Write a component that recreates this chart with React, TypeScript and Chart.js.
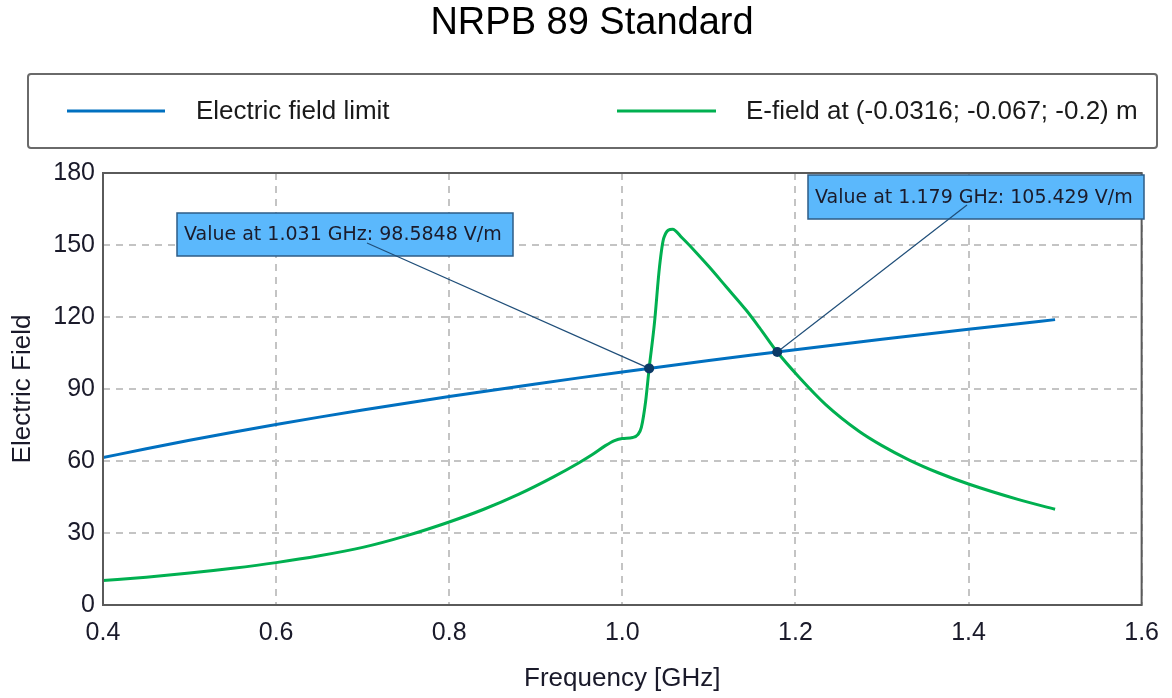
import React, { useEffect, useRef } from "react";
import { Chart, registerables } from "chart.js";

Chart.register(...registerables);

// ---- data ----
const limitFreqs = [0.4, 0.45, 0.5, 0.55, 0.6, 0.65, 0.7, 0.75, 0.8, 0.85, 0.9, 0.95, 1.0, 1.05, 1.1, 1.15, 1.2, 1.25, 1.3, 1.35, 1.4, 1.45, 1.5];
const limitValues = [61.41, 65.13, 68.65, 72.0, 75.21, 78.28, 81.23, 84.08, 86.84, 89.51, 92.11, 94.63, 97.09, 99.49, 101.83, 104.12, 106.36, 108.55, 110.7, 112.81, 114.88, 116.91, 118.91];

const fieldFreqs = [0.4, 0.45, 0.5, 0.55, 0.6, 0.65, 0.7, 0.75, 0.8, 0.84, 0.88, 0.92, 0.95, 0.965, 0.98, 0.991, 1.0, 1.012, 1.018, 1.022, 1.027, 1.031, 1.037, 1.043, 1.048, 1.058, 1.069, 1.085, 1.1, 1.12, 1.143, 1.158, 1.179, 1.204, 1.235, 1.273, 1.3, 1.331, 1.365, 1.4, 1.458, 1.5];
const fieldValues = [10.2, 11.6, 13.3, 15.3, 17.65, 20.5, 24.0, 28.8, 34.6, 39.9, 46.1, 53.3, 59.3, 62.6, 66.3, 68.5, 69.4, 69.8, 71.0, 74.0, 85.0, 98.6, 117.0, 141.0, 153.0, 156.6, 153.0, 147.0, 141.0, 132.6, 122.9, 115.8, 105.4, 95.0, 83.5, 72.5, 66.4, 60.5, 55.1, 50.4, 43.9, 39.9];

const xTickValues = [0.4, 0.6, 0.8, 1.0, 1.2, 1.4, 1.6];
const yTickValues = [0, 30, 60, 90, 120, 150, 180];

const markerFreqs = [1.031, 1.179];
const markerValues = [98.5848, 105.429];
const markerLabels = ["Value at 1.031 GHz: 98.5848 V/m", "Value at 1.179 GHz: 105.429 V/m"];

const seriesNames = ["Electric field limit", "E-field at (-0.0316; -0.067; -0.2) m"];
const seriesColors = ["#0070C0", "#00B050"];
const chartTitle = "NRPB 89 Standard";

const FONT = "'Liberation Sans', Arial, sans-serif";

// layout of annotation boxes (pixels): x, y, w, h, anchorX, anchorY
const labelBoxes = [
  { x: 177, y: 213, w: 336, h: 43, ax: 367, ay: 243 },
  { x: 808, y: 175, w: 336, h: 44, ax: 967, ay: 205 },
];

const decorPlugin = {
  id: "decor",
  afterDraw(chart: any) {
    const ctx = chart.ctx as CanvasRenderingContext2D;
    const { left, right, top, bottom } = chart.chartArea;
    ctx.save();

    // plot frame
    ctx.strokeStyle = "#5a5a5a";
    ctx.lineWidth = 2;
    ctx.strokeRect(left, top, right - left, bottom - top);

    // title
    ctx.fillStyle = "#000";
    ctx.font = `38px ${FONT}`;
    ctx.textAlign = "center";
    ctx.textBaseline = "middle";
    ctx.fillText(chartTitle, 592, 24);

    // legend box
    ctx.strokeStyle = "#6a6a6a";
    ctx.lineWidth = 2;
    ctx.beginPath();
    (ctx as any).roundRect(28, 74, 1129, 74, 3);
    ctx.stroke();
    const legendY = 111;
    const legendItems = [
      { x1: 67, x2: 165, tx: 196 },
      { x1: 617, x2: 716, tx: 746 },
    ];
    ctx.font = `26px ${FONT}`;
    ctx.textAlign = "left";
    legendItems.forEach((it, i) => {
      ctx.strokeStyle = seriesColors[i];
      ctx.lineWidth = 3;
      ctx.beginPath();
      ctx.moveTo(it.x1, legendY);
      ctx.lineTo(it.x2, legendY);
      ctx.stroke();
      ctx.fillStyle = "#1a1a1a";
      ctx.fillText(seriesNames[i], it.tx, legendY + 1);
    });

    // annotations
    const xs = chart.scales.x;
    const ys = chart.scales.y;
    markerFreqs.forEach((f, i) => {
      const px = xs.getPixelForValue(f);
      const py = ys.getPixelForValue(markerValues[i]);
      const b = labelBoxes[i];
      ctx.fillStyle = "#5BB8FC";
      ctx.fillRect(b.x, b.y, b.w, b.h);
      ctx.strokeStyle = "#2E5C86";
      ctx.lineWidth = 1.5;
      ctx.strokeRect(b.x, b.y, b.w, b.h);
      ctx.fillStyle = "#1b1b2a";
      ctx.font = `19px 'DejaVu Sans', sans-serif`;
      ctx.textAlign = "left";
      ctx.textBaseline = "middle";
      ctx.fillText(markerLabels[i], b.x + 7, b.y + b.h / 2 + 1);
      ctx.strokeStyle = "#1F4E79";
      ctx.lineWidth = 1.2;
      ctx.beginPath();
      ctx.moveTo(b.ax, b.ay);
      ctx.lineTo(px, py);
      ctx.stroke();
      ctx.fillStyle = "#0B3A66";
      ctx.beginPath();
      ctx.arc(px, py, 5, 0, Math.PI * 2);
      ctx.fill();
    });
    ctx.restore();
  },
};

export default function App() {
  const ref = useRef<HTMLCanvasElement | null>(null);
  useEffect(() => {
    document.body.style.margin = "0";
    const canvas = ref.current!;
    const chart = new Chart(canvas, {
      type: "line",
      data: {
        datasets: [
          {
            label: seriesNames[0],
            data: limitFreqs.map((f, i) => ({ x: f, y: limitValues[i] })),
            borderColor: seriesColors[0],
            borderWidth: 3,
            pointRadius: 0,
            cubicInterpolationMode: "monotone",
          },
          {
            label: seriesNames[1],
            data: fieldFreqs.map((f, i) => ({ x: f, y: fieldValues[i] })),
            borderColor: seriesColors[1],
            borderWidth: 3,
            pointRadius: 0,
            cubicInterpolationMode: "monotone",
          },
        ],
      },
      options: {
        animation: false,
        responsive: false,
        devicePixelRatio: 1,
        layout: { padding: { top: 173, right: 29, left: 0, bottom: 0 } },
        plugins: {
          legend: { display: false },
          title: { display: false },
          tooltip: { enabled: false },
        },
        scales: {
          x: {
            type: "linear",
            min: 0.4,
            max: 1.6,
            afterBuildTicks: (s: any) => {
              s.ticks = xTickValues.map((v) => ({ value: v }));
            },
            afterFit: (s: any) => {
              s.height = 93;
            },
            ticks: {
              callback: (v: any) => Number(v).toFixed(1),
              font: { family: FONT, size: 25 },
              color: "#1a1a2a",
              padding: 13,
              maxRotation: 0,
            },
            grid: { color: "#c4c4c4", lineWidth: 2, drawTicks: false },
            border: { display: false, dash: [7, 6] },
            title: {
              display: true,
              text: "Frequency [GHz]",
              font: { family: FONT, size: 26 },
              color: "#1a1a2a",
              padding: { top: 0, bottom: 4 },
            },
          },
          y: {
            type: "linear",
            min: 0,
            max: 180,
            afterBuildTicks: (s: any) => {
              s.ticks = yTickValues.map((v) => ({ value: v }));
            },
            afterFit: (s: any) => {
              s.width = 103;
            },
            ticks: {
              font: { family: FONT, size: 25 },
              color: "#1a1a2a",
              padding: 8,
            },
            grid: { color: "#c4c4c4", lineWidth: 2, drawTicks: false },
            border: { display: false, dash: [7, 6] },
            title: {
              display: true,
              text: "Electric Field",
              font: { family: FONT, size: 26 },
              color: "#1a1a2a",
              padding: { top: 7, bottom: 0 },
            },
          },
        },
      },
      plugins: [decorPlugin],
    } as any);
    return () => chart.destroy();
  }, []);
  return (
    <div style={{ position: "fixed", left: 0, top: 0, width: 1172, height: 698, background: "#fff" }}>
      <canvas ref={ref} width={1172} height={698} style={{ display: "block" }} />
    </div>
  );
}
